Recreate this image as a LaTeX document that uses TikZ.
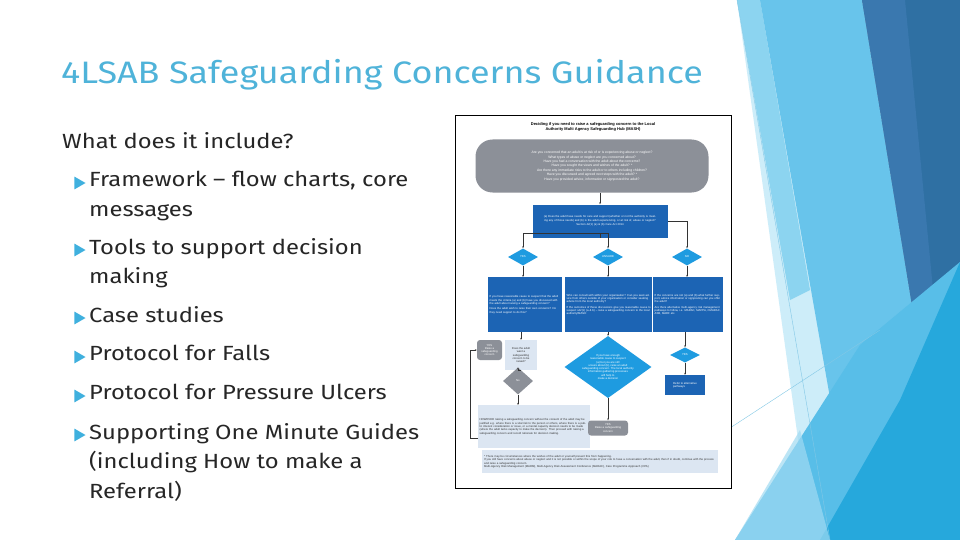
\documentclass[tikz,border=0pt]{standalone}
\usepackage{fontspec}
\setmainfont[FakeStretch=1.16]{Fira Sans}
\setsansfont{Liberation Sans}
\usetikzlibrary{shapes.geometric,arrows.meta}
\definecolor{ttl}{HTML}{4FB3D9}
\definecolor{bul}{HTML}{3FB0DE}
\definecolor{fblue}{HTML}{1C64B4}
\definecolor{fdia}{HTML}{1E9BE0}
\definecolor{fgrey}{HTML}{8C9098}
\definecolor{flight}{HTML}{DCE6F2}
\begin{document}
\begin{tikzpicture}[x=1pt,y=-1pt,
  tiny/.style={font=\sffamily\fontsize{2.8}{3.3}\selectfont,text=white,align=center,inner sep=1pt},
  bbox/.style={tiny,fill=fblue,align=left},
  lbox/.style={tiny,fill=flight,text=black!80},
  dia/.style={tiny,diamond,fill=fdia,aspect=2,inner sep=0pt},
  gdia/.style={tiny,diamond,fill=fgrey,aspect=1.2,inner sep=0pt},
  grr/.style={tiny,fill=fgrey,rounded corners=3pt},
  arr/.style={-{Stealth[length=2pt]},line width=0.4pt,black!80},
  ln/.style={line width=0.4pt,black!80},
  item/.style={anchor=north west,font=\fontsize{20.5}{29.5}\selectfont,text=black!85,align=left,inner sep=0pt},
  bt/.style={regular polygon,regular polygon sides=3,shape border rotate=-90,fill=bul,inner sep=0pt,minimum size=15pt}]
\useasboundingbox (0,0) rectangle (960,540);
% background decorations
\fill[white] (0,0) rectangle (960,540);
\fill[color={rgb,255:red,205;green,237;blue,249}] (737,0)--(800,0)--(900,540)--(812,540)--cycle;
\fill[color={rgb,255:red,140;green,212;blue,240}] (737,0)--(760,0)--(810,290)--(790,300)--cycle;
\fill[color={rgb,255:red,104;green,196;blue,235}] (760,0)--(862,0)--(918,342)--(890,540)--(855,540)--cycle;
\fill[color={rgb,255:red,47;green,112;blue,163}] (862,0)--(960,0)--(960,268)--(918,342)--cycle;
\fill[color={rgb,255:red,58;green,120;blue,175}] (862,0)--(905,0)--(935,310)--(918,342)--cycle;
\fill[color={rgb,255:red,88;green,190;blue,232}] (735,540)--(860,345)--(960,262)--(960,540)--cycle;
\fill[color={rgb,255:red,38;green,168;blue,220}] (820,540)--(900,400)--(960,262)--(960,540)--cycle;
\fill[color={rgb,255:red,160;green,218;blue,242},opacity=.7] (735,540)--(800,430)--(830,540)--cycle;
\draw[color={rgb,255:red,130;green,200;blue,230},line width=0.4pt] (737,0)--(830,540);
\draw[color={rgb,255:red,130;green,200;blue,230},line width=0.4pt] (730,428)--(880,330);
% title and bullets
\node[anchor=west,font=\fontsize{31}{34}\selectfont,text=ttl,inner sep=0pt] (title) at (61,75) {4LSAB Safeguarding Concerns Guidance};
\node[item] (q) at (62,132) {What does it include?};
\foreach \y/\t [count=\i] in {171/{Framework – flow charts, core\\messages},238/{Tools to support decision\\making},306/{Case studies},345/{Protocol for Falls},384/{Protocol for Pressure Ulcers},423/{Supporting One Minute Guides\\(including How to make a\\Referral)}}{
  \node[bt] (b\i) at (78,\y+12) {};
  \node[item] (t\i) at (89,\y) {\t};
}
% flowchart frame
\draw[black,line width=0.7pt,fill=white] (455,115) rectangle (731,488);
\node[font=\sffamily\bfseries\fontsize{4}{4.8}\selectfont,align=center] (ft) at (593,127) {Deciding if you need to raise a safeguarding concern to the Local\\Authority Multi Agency Safeguarding Hub (MASH)};
\node[tiny,fill=fgrey,rounded corners=17pt,minimum width=233pt,minimum height=53pt,font=\sffamily\fontsize{3.4}{4.4}\selectfont] (top) at (592,166) {Are you concerned that an adult is at risk of or is experiencing abuse or neglect?\\What types of abuse or neglect are you concerned about?\\Have you had a conversation with the adult about the concerns?\\Have you sought the views and wishes of the adult? *\\Are there any immediate risks to the adult or to others including children?\\Have you discussed and agreed next steps with the adult? *\\Have you provided advice, information or signposted the adult?};
\node[bbox,align=center,minimum width=135pt,minimum height=33pt,text width=128pt] (q1) at (600,221) {(a) Does the adult have needs for care and support (whether or not the authority is meeting any of those needs) and (b) is the adult experiencing, or at risk of, abuse or neglect?\\[1pt] Section 42(1) (a) \& (b) Care Act 2014};
\node[dia,minimum width=30pt,minimum height=17pt] (yes) at (523,257) {YES};
\node[dia,minimum width=30pt,minimum height=17pt] (uns) at (608,257) {UNSURE};
\node[dia,minimum width=30pt,minimum height=17pt] (no) at (687,257) {NO};
\node[bbox,anchor=north west,minimum width=74pt,minimum height=55pt,text width=71pt] (by) at (488,277) {If you have reasonable cause to suspect that the adult meets the criteria (a) and (b) have you discussed with the adult about raising a safeguarding concern?\\[2pt] Does the adult wish to raise their own concerns? Do they need support to do this?};
\node[bbox,anchor=north west,minimum width=87pt,minimum height=55pt,text width=84pt] (bu) at (565,277) {Who can consult with within your organisation? Can you seek advice from others outside of your organisation or consider seeking advice from the local authority?\\[2pt] If the outcomes of these discussions give you reasonable cause to suspect s42(1) (a \& b) – raise a safeguarding concern to the local authority/MASH};
\node[bbox,anchor=north west,minimum width=70pt,minimum height=55pt,text width=67pt] (bn) at (653,277) {If the concerns are not (a) and (b) what further support, advice information or signposting can you offer the adult?\\[2pt] Are there alternative multi-agency risk management pathways to follow, i.e. MARAC, MAPPA, CMARAC, ASB, MARF etc.};
\node[grr,minimum width=25pt,minimum height=20pt] (ry) at (489.5,350) {YES\\Raise a\\safeguarding\\concern};
\node[lbox,minimum width=32pt,minimum height=30pt] (want) at (521,355) {Does the adult\\want a\\safeguarding\\concern to be\\raised?};
\node[gdia,minimum width=30pt,minimum height=27pt] (nod) at (518,381) {No};
\node[lbox,anchor=north west,minimum width=112pt,minimum height=43pt,text width=109pt,align=left] (how) at (478,405) {HOWEVER raising a safeguarding concern without the consent of the adult may be justified e.g. where there is a vital risk to the person or others, where there is a public interest consideration or issue, or a mental capacity decision needs to be made (where the adult lacks capacity to make the decision). Then proceed with raising a safeguarding concern and record rationale for decision making.};
\node[dia,aspect=1.4,minimum width=87pt,minimum height=62pt] (bigd) at (608,367) {If you have enough\\reasonable cause to suspect\\(a) but you are still\\unsure about (b), raise an adult\\safeguarding concern. The local authority\\information gathering processes\\will help to\\make a decision};
\node[grr,minimum width=40pt,minimum height=15pt] (ry2) at (608,428) {YES\\Raise a safeguarding\\concern};
\node[dia,minimum width=30pt,minimum height=15pt] (yes2) at (685,355) {YES};
\node[bbox,minimum width=40pt,minimum height=20pt] (refer) at (685,385) {Refer to alternative\\pathways};
\node[lbox,anchor=north west,minimum width=236pt,minimum height=23pt,text width=232pt,align=left] (foot) at (482,450) {* There may be circumstances where the wishes of the adult or yourself prevent this from happening.\\If you still have concerns about abuse or neglect and it is not possible or within the scope of your role to have a conversation with the adult, then if in doubt, continue with the process and raise a safeguarding concern.\\Multi-Agency Risk Management (MARM), Multi-Agency Risk Assessment Conference (MARAC), Care Programme Approach (CPA)};
% connectors
\draw[arr] (top.south -| q1.north) -- (q1.north);
\coordinate (jj) at ([yshift=5pt]q1.south);
\draw[ln] (q1.south) -- (jj);
\draw[arr] (jj) -| (yes.north);
\draw[arr] (jj) -| (uns.north);
\draw[arr] (q1.east) -| (no.north);
\draw[arr] (yes.south) -- (yes.south |- by.north);
\draw[arr] (uns.south) -- (uns.south |- bu.north);
\draw[arr] (no.south) -- (no.south |- bn.north);
\draw[arr] (by.south -| want) -- (want.north);
\draw[arr] (want.south) -- (want.south -| nod) -- (nod.north);
\draw[arr] (nod.south) -- (nod.south |- how.north);
\coordinate (lp) at (470,438);
\draw[ln] (how.west |- lp) -- (lp);
\draw[arr] (lp) |- (ry.west);
\draw[arr] (bu.south -| bigd) -- (bigd.north);
\draw[arr] (bigd.south) -- (ry2.north);
\draw[arr] (bn.south -| yes2) -- (yes2.north);
\draw[arr] (yes2.south) -- (refer.north);
\end{tikzpicture}
\end{document}
